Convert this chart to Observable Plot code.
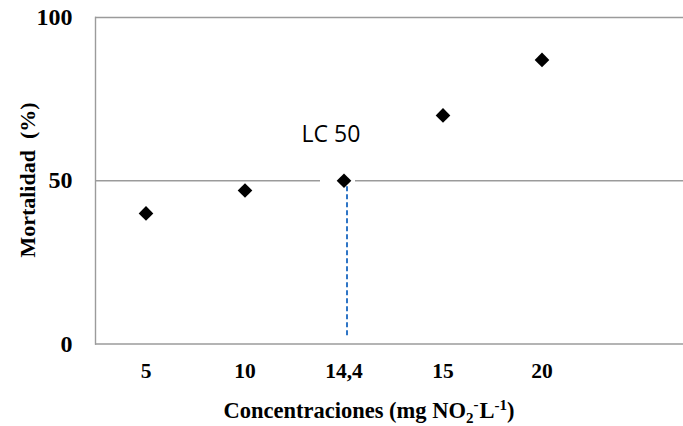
<!DOCTYPE html>
<html>
<head>
<meta charset="utf-8">
<script src="https://cdn.jsdelivr.net/npm/d3@7"></script>
<script src="https://cdn.jsdelivr.net/npm/@observablehq/plot@0.6"></script>
<style>
  html, body { margin: 0; padding: 0; background: #fff; }
  #chart svg { display: block; }
</style>
</head>
<body>
<div id="chart"></div>
<script>
// Data
const concentrations = ["5", "10", "14,4", "15", "20"];
const mortality = [40, 47, 50, 70, 87];
const yTicks = [0, 50, 100];
const lcCategory = "14,4";
const lcValue = 50;
const lcLabel = "LC 50";
const yTitle = "Mortalidad  (%)";

const data = concentrations.map((c, i) => ({conc: c, mort: mortality[i]}));

const serif = "'Liberation Serif', 'Times New Roman', serif";
const gray = "#9b9b9b";

const chart = Plot.plot({
  width: 683,
  height: 426,
  marginLeft: 95,
  marginRight: 0,
  marginTop: 17,
  marginBottom: 82.5,
  style: {background: "#fff", overflow: "visible"},
  x: {type: "band", domain: concentrations, range: [94, 592], padding: 0, label: null},
  y: {domain: [0, 100], label: null},
  marks: [
    Plot.ruleY(yTicks, {stroke: gray, strokeWidth: 1.4}),
    Plot.frame({anchor: "left", stroke: gray, strokeWidth: 1.4}),
    // white gap in the 50 % gridline around the LC 50 marker
    Plot.tickY([{conc: lcCategory, mort: lcValue}], {x: "conc", y: "mort", stroke: "#fff", strokeWidth: 4, insetLeft: 26, insetRight: 38}),
    Plot.ruleX([{conc: lcCategory, mort: lcValue}], {x: "conc", y1: 2.5, y2: "mort", dx: 3, stroke: "#2e75c6", strokeWidth: 2, strokeDasharray: "5,3"}),
    Plot.dot(data, {x: "conc", y: "mort", symbol: "diamond2", r: 6.6, fill: "#000", stroke: "none"}),
    Plot.text([{conc: lcCategory, mort: 64}], {x: "conc", y: "mort", text: () => lcLabel, dx: -13, fontSize: 23, fontFamily: "'Open Sans', sans-serif", fill: "#000"}),
    Plot.axisY({ticks: yTicks, tickSize: 0, tickPadding: 23, fontSize: 24, fontWeight: "bold", fontFamily: serif, fill: "#000", label: null}),
    Plot.axisX({tickSize: 0, tickPadding: 19, fontSize: 21.5, fontWeight: "bold", fontFamily: serif, fill: "#000", label: null})
  ]
});

const svg = d3.select(chart);

// y axis title
svg.append("text")
  .attr("transform", "translate(35,180) rotate(-90)")
  .attr("text-anchor", "middle")
  .style("white-space", "pre")
  .attr("font-family", serif)
  .attr("font-weight", "bold")
  .attr("font-size", 22)
  .attr("fill", "#000")
  .text(yTitle);

// x axis title with subscript / superscript
const xt = svg.append("text")
  .attr("x", 369)
  .attr("y", 418)
  .attr("text-anchor", "middle")
  .attr("font-family", serif)
  .attr("font-weight", "bold")
  .attr("font-size", 22.5)
  .attr("fill", "#000");
xt.append("tspan").text("Concentraciones (mg NO");
xt.append("tspan").attr("dy", 5).attr("font-size", 15).text("2");
xt.append("tspan").attr("dx", 0).attr("dy", -14).attr("font-size", 15).text("-");
xt.append("tspan").attr("dx", 1).attr("dy", 9).text("L");
xt.append("tspan").attr("dy", -8).attr("font-size", 15).text("-1");
xt.append("tspan").attr("dy", 8).text(")");

document.getElementById("chart").appendChild(chart);
</script>
</body>
</html>
